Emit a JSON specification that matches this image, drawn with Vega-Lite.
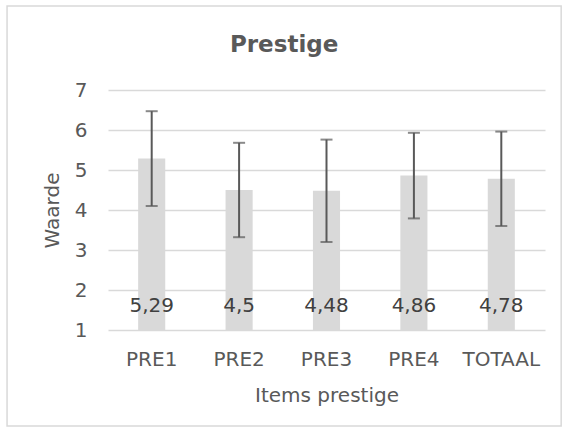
{
  "$schema": "https://vega.github.io/schema/vega-lite/v6.json",
  "width": 437,
  "height": 240,
  "autosize": {"type": "none"},
  "padding": {"left": 108, "top": 90, "right": 23, "bottom": 102},
  "background": "white",
  "title": {
    "text": "Prestige",
    "fontSize": 23,
    "fontWeight": "bold",
    "color": "#595959",
    "font": "DejaVu Sans",
    "anchor": "middle",
    "frame": "bounds",
    "baseline": "alphabetic",
    "offset": -70
  },
  "datasets": {
    "items": [
      {"item": "PRE1", "mean": 5.29, "lo": 4.10, "hi": 6.47},
      {"item": "PRE2", "mean": 4.5, "lo": 3.32, "hi": 5.68},
      {"item": "PRE3", "mean": 4.48, "lo": 3.20, "hi": 5.76},
      {"item": "PRE4", "mean": 4.86, "lo": 3.79, "hi": 5.93},
      {"item": "TOTAAL", "mean": 4.78, "lo": 3.60, "hi": 5.96}
    ],
    "frame": [{}]
  },
  "resolve": {"scale": {"x": "independent"}, "axis": {"x": "independent"}},
  "layer": [
    {
      "data": {"name": "frame"},
      "mark": {"type": "rect", "fill": null, "stroke": "#d9d9d9", "strokeWidth": 1.5, "clip": false},
      "encoding": {
        "x": {"datum": -0.231, "type": "quantitative", "scale": {"domain": [0, 1], "nice": false, "zero": false}, "axis": null},
        "x2": {"datum": 1.037},
        "y": {
          "datum": 9.1,
          "type": "quantitative",
          "scale": {"domain": [1, 7], "nice": false, "zero": false},
          "axis": {"title": "Waarde", "values": [1, 2, 3, 4, 5, 6, 7], "tickCount": 7}
        },
        "y2": {"datum": -1.4}
      }
    },
    {
      "data": {"name": "items"},
      "encoding": {
        "x": {
          "field": "item",
          "type": "nominal",
          "sort": null,
          "scale": {"paddingInner": 0.69, "paddingOuter": 0.345},
          "axis": {
            "title": "Items prestige",
            "labelAngle": 0,
            "ticks": false,
            "domain": false,
            "labelPadding": 19,
            "titlePadding": 16,
            "labelFontSize": 20,
            "titleFontSize": 20,
            "titleFontWeight": "normal",
            "labelColor": "#595959",
            "titleColor": "#595959",
            "labelFont": "DejaVu Sans",
            "titleFont": "DejaVu Sans"
          }
        }
      },
      "layer": [
        {
          "mark": {"type": "bar", "color": "#d9d9d9"},
          "encoding": {
            "y": {
              "field": "mean",
              "type": "quantitative",
              "scale": {"domain": [1, 7], "nice": false, "zero": false},
              "axis": {"title": "Waarde", "values": [1, 2, 3, 4, 5, 6, 7], "tickCount": 7}
            },
            "y2": {"datum": 1}
          }
        },
        {
          "mark": {"type": "rule", "color": "#595959", "strokeWidth": 2},
          "encoding": {
            "y": {"field": "lo", "type": "quantitative"},
            "y2": {"field": "hi"}
          }
        },
        {
          "mark": {"type": "tick", "color": "#595959", "size": 12, "thickness": 2},
          "encoding": {"y": {"field": "lo", "type": "quantitative"}}
        },
        {
          "mark": {"type": "tick", "color": "#595959", "size": 12, "thickness": 2},
          "encoding": {"y": {"field": "hi", "type": "quantitative"}}
        },
        {
          "mark": {"type": "text", "fontSize": 20, "color": "#404040", "font": "DejaVu Sans", "baseline": "middle"},
          "encoding": {
            "y": {"datum": 1.6, "type": "quantitative"},
            "text": {"field": "mean", "type": "quantitative", "format": "~g"}
          }
        }
      ]
    }
  ],
  "config": {
    "view": {"stroke": null},
    "font": "DejaVu Sans",
    "axisY": {
      "grid": true,
      "gridColor": "#d9d9d9",
      "gridWidth": 1.3,
      "ticks": false,
      "domain": false,
      "labelOverlap": false,
      "labelPadding": 21,
      "titlePadding": 12,
      "labelFontSize": 20,
      "titleFontSize": 20,
      "titleFontWeight": "normal",
      "labelColor": "#595959",
      "titleColor": "#595959",
      "labelFont": "DejaVu Sans",
      "titleFont": "DejaVu Sans",
      "tickCount": 7
    },
    "locale": {"number": {"decimal": ",", "thousands": ".", "grouping": [3], "currency": ["€", ""]}}
  }
}
